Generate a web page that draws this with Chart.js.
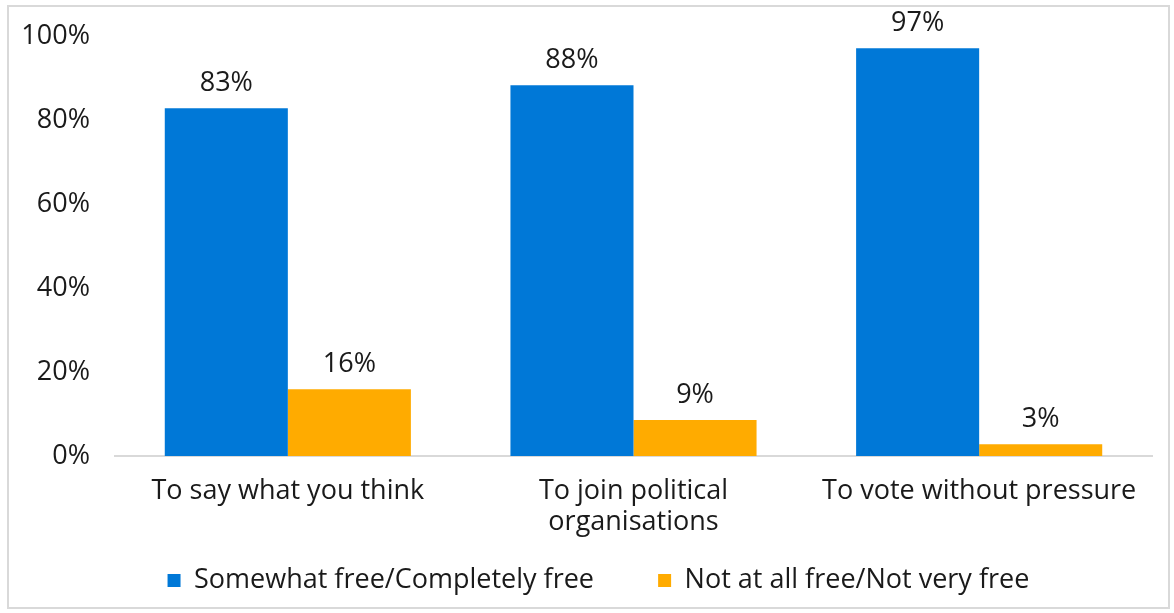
<!DOCTYPE html>
<html>
<head>
<meta charset="utf-8">
<script src="https://cdn.jsdelivr.net/npm/chart.js@4/dist/chart.umd.min.js"></script>
<style>
  html, body { margin: 0; padding: 0; background: #fff; }
  #wrap { position: relative; width: 1174px; height: 613px; }
  #frame { position: absolute; left: 7px; top: 5px; width: 1163px; height: 604px; border: 2px solid #d9d9d9; box-sizing: border-box; pointer-events: none; }
</style>
</head>
<body>
<div id="wrap">
  <canvas id="freeChart" width="1174" height="613"></canvas>
  <div id="frame"></div>
</div>
<script>
const categories = ["To say what you think", ["To join political", "organisations"], "To vote without pressure"];
const seriesNames = ["Somewhat free/Completely free", "Not at all free/Not very free"];
const freeValues = [82.8, 88.3, 97.1];
const notFreeValues = [15.9, 8.6, 2.8];
const barColors = ["#0078d7", "#ffab00"];
const fontName = "Open Sans";
const fontSize = 27;

// value labels above each bar
const valueLabels = {
    id: "valueLabels",
    afterDatasetsDraw(chart){
        let ctx = chart.ctx;
        ctx.save();
        ctx.font = fontSize + "px " + fontName;
        ctx.fillStyle = "#1a1a1a";
        ctx.textAlign = "center";
        ctx.textBaseline = "alphabetic";
        chart.data.datasets.forEach((ds, i) => {
            chart.getDatasetMeta(i).data.forEach((bar, j) => {
                ctx.fillText(Math.round(ds.data[j]) + "%", bar.x, bar.y - 17);
            });
        });
        ctx.restore();
    }
};

new Chart("freeChart", {
    type: "bar",
    data: {
        labels: categories,
        datasets: [
            { label: seriesNames[0], data: freeValues, backgroundColor: barColors[0] },
            { label: seriesNames[1], data: notFreeValues, backgroundColor: barColors[1] }
        ]
    },
    options: {
        responsive: false,
        animation: false,
        categoryPercentage: 0.712,
        barPercentage: 1,
        layout: { padding: { left: 0, right: 22, top: 36, bottom: 9 } },
        scales: {
            x: {
                afterFit(scale){ scale.height = 89; },
                grid: { display: false, drawTicks: false },
                border: { display: true, color: "#d9d9d9", width: 2 },
                ticks: { color: "#1a1a1a", font: { family: fontName, size: fontSize, lineHeight: 1.15 }, padding: 20, maxRotation: 0 }
            },
            y: {
                min: 0,
                max: 100,
                afterFit(scale){
                    scale.width = 115;
                    scale.paddingTop = 0;
                    scale.paddingBottom = 0;
                },
                grid: { display: false, drawTicks: false },
                border: { display: false },
                ticks: {
                    stepSize: 20,
                    padding: 25,
                    color: "#1a1a1a",
                    font: { family: fontName, size: fontSize },
                    callback: v => v + "%"
                }
            }
        },
        plugins: {
            legend: {
                position: "bottom",
                fullSize: false,
                labels: {
                    boxWidth: 13,
                    boxHeight: 13,
                    padding: 22,
                    color: "#1a1a1a",
                    font: { family: fontName, size: fontSize },
                    // widen the gap between the two entries like the original
                    generateLabels(chart){
                        let items = Chart.defaults.plugins.legend.labels.generateLabels(chart);
                        items[0].text += "      ";
                        items[1].text += "          ";
                        return items;
                    }
                }
            },
            tooltip: { enabled: false }
        }
    },
    plugins: [valueLabels]
});
</script>
</body>
</html>
